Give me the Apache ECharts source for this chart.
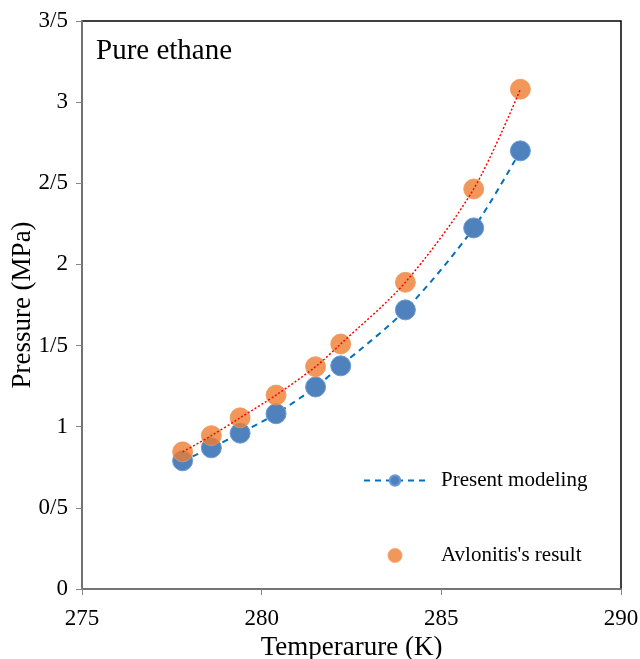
<!DOCTYPE html>
<html>
<head>
<meta charset="utf-8">
<script src="https://cdn.jsdelivr.net/npm/echarts@6/dist/echarts.min.js"></script>
<style>
html,body{margin:0;padding:0;background:#fff;}
#c{width:640px;height:659px;}
</style>
</head>
<body>
<div id="c"></div>
<script>
var temperature = [277.8, 278.6, 279.4, 280.4, 281.5, 282.2, 284.0, 285.9, 287.2];
var presentModeling = [0.79, 0.87, 0.96, 1.08, 1.245, 1.375, 1.72, 2.225, 2.70];
var avlonitis = [0.845, 0.945, 1.055, 1.195, 1.37, 1.51, 1.89, 2.465, 3.08];

function pairs(xs, ys){ return xs.map(function(x,i){ return [x, ys[i]]; }); }

var FONT = '"Liberation Serif", "Times New Roman", serif';
var chart = echarts.init(document.getElementById('c'), null, {renderer:'canvas'});
chart.setOption({
  animation:false,
  backgroundColor:'#fff',
  title:{
    text:'Pure ethane', left:91, top:32,
    textStyle:{fontFamily:FONT, fontSize:29, fontWeight:'normal', color:'#000'}
  },
  grid:{left:82, right:19, top:21, bottom:70, containLabel:false, outerBoundsMode:'none',
    show:true, borderColor:'#000', borderWidth:1.5, backgroundColor:'transparent'},
  legend:{
    orient:'vertical', left:358, top:465, itemWidth:62, itemHeight:13, itemGap:54,
    textStyle:{fontFamily:FONT, fontSize:21, color:'#000', padding:[0,0,0,10]},
    data:['Present modeling', "Avlonitis's result"]
  },
  xAxis:{
    type:'value', min:275, max:290, interval:5,
    name:'Temperarure (K)', nameLocation:'middle', nameGap:45, nameMoveOverlap:false,
    nameTextStyle:{fontFamily:FONT, fontSize:27, color:'#000'},
    axisLine:{show:true, lineStyle:{color:'#868686', width:1.5}},
    axisTick:{show:true, inside:false, length:6, lineStyle:{color:'#868686'}},
    axisLabel:{fontFamily:FONT, fontSize:23, color:'#000', margin:18},
    splitLine:{show:false}
  },
  yAxis:{
    type:'value', min:0, max:3.5, interval:0.5,
    name:'Pressure (MPa)', nameLocation:'middle', nameGap:46, nameMoveOverlap:false,
    nameTextStyle:{fontFamily:FONT, fontSize:27, color:'#000'},
    axisLine:{show:true, lineStyle:{color:'#868686', width:1.5}},
    axisTick:{show:true, inside:false, length:6, lineStyle:{color:'#868686'}},
    axisLabel:{fontFamily:FONT, fontSize:23, color:'#000', margin:14,
      formatter:function(v){ return String(v).replace('.', '/'); }},
    splitLine:{show:false}
  },
  series:[
    {
      name:'Present modeling', type:'line', smooth:0.3, z:2,
      data:pairs(temperature, presentModeling),
      symbol:'circle', symbolSize:20,
      itemStyle:{color:'#4f81bd', borderColor:'#6a9ad3', borderWidth:1},
      lineStyle:{color:'#0070c0', width:2, type:[6,5]}
    },
    {
      name:"Avlonitis's result", type:'scatter', z:3,
      data:pairs(temperature, avlonitis),
      symbol:'circle', symbolSize:20,
      itemStyle:{color:'#ed7d31', borderColor:'#f0955a', borderWidth:1}
    },
    {
      name:'Avlonitis trend', type:'line', smooth:0.3, z:4,
      data:pairs(temperature, avlonitis),
      symbol:'none', silent:true,
      lineStyle:{color:'#ff0000', width:1.5, type:[2,2]}
    }
  ]
});
</script>
</body>
</html>
